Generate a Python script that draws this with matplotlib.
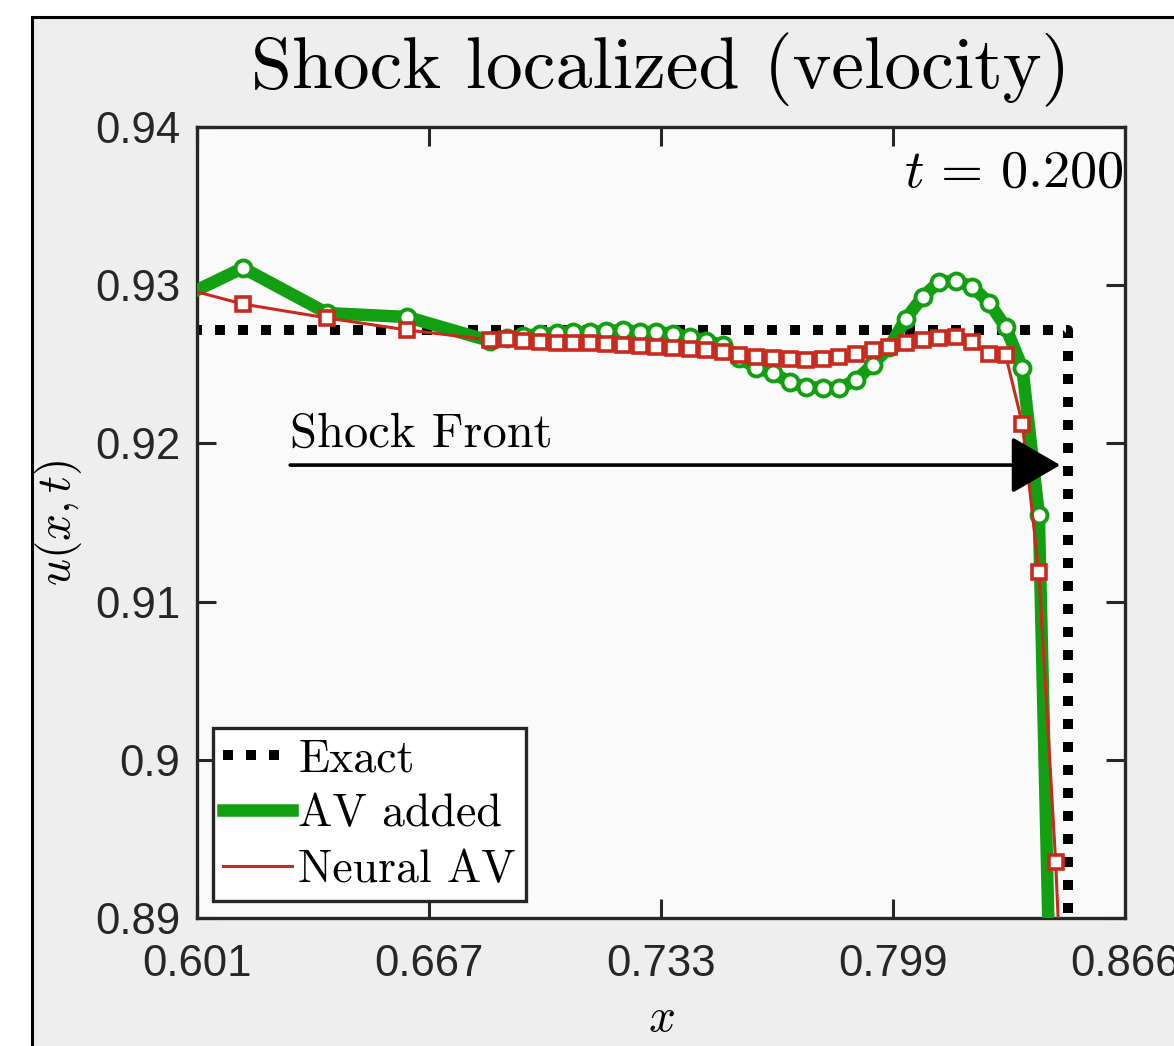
import matplotlib
matplotlib.use('Agg')
import matplotlib.pyplot as plt
from matplotlib.patches import Rectangle

plt.rcParams['mathtext.fontset'] = 'cm'
plt.rcParams['axes.unicode_minus'] = False

# grid nodes (first one lies left of the plotted window)
x_nodes = [0.5904, 0.6141, 0.6381, 0.6610,
           0.6847, 0.6894, 0.6942, 0.6989, 0.7037, 0.7084, 0.7132, 0.7179,
           0.7227, 0.7274, 0.7322, 0.7369, 0.7417, 0.7464, 0.7512, 0.7559,
           0.7607, 0.7654, 0.7702, 0.7749, 0.7797, 0.7844, 0.7892, 0.7939,
           0.7987, 0.8034, 0.8082, 0.8129, 0.8177, 0.8224, 0.8272, 0.8319,
           0.8367, 0.8414, 0.8462, 0.8509]

u_av = [0.92856, 0.93109, 0.92824, 0.92799,
        0.92647, 0.92666, 0.92679, 0.92692, 0.92698, 0.92704, 0.92704, 0.92710,
        0.92717, 0.92704, 0.92704, 0.92692, 0.92673, 0.92647, 0.92622, 0.92540,
        0.92477, 0.92445, 0.92388, 0.92357, 0.92350, 0.92350, 0.92401, 0.92496,
        0.92609, 0.92787, 0.92926, 0.93021, 0.93028, 0.92990, 0.92889, 0.92736,
        0.92477, 0.91547, 0.87000, 0.85000]

u_nav = [0.93020, 0.92881, 0.92793, 0.92717,
         0.92654, 0.92660, 0.92647, 0.92641, 0.92635, 0.92635, 0.92635, 0.92628,
         0.92622, 0.92616, 0.92609, 0.92603, 0.92597, 0.92590, 0.92578, 0.92559,
         0.92546, 0.92540, 0.92534, 0.92527, 0.92534, 0.92546, 0.92565, 0.92590,
         0.92609, 0.92635, 0.92654, 0.92666, 0.92673, 0.92642, 0.92565, 0.92559,
         0.92123, 0.91187, 0.89354, 0.87000]

x_exact = [0.58, 0.8497, 0.8497]
u_exact = [0.92717, 0.92717, 0.85]

xticks = [0.601, 0.6673, 0.7335, 0.7998, 0.866]
xticklabels = ['0.601', '0.667', '0.733', '0.799', '0.866']
yticks = [0.89, 0.90, 0.91, 0.92, 0.93, 0.94]
yticklabels = ['0.89', '0.9', '0.91', '0.92', '0.93', '0.94']

green = '#12a012'
red = '#c92a1e'
dark = '#262626'

fig = plt.figure(figsize=(11.74, 10.46), dpi=100, facecolor='white')
# gray panel with the black border of the screenshot
fig.patches.append(Rectangle((32 / 1174, -0.01), 1.2, 1 - 17 / 1046 + 0.01,
                             transform=fig.transFigure, facecolor='#eeeeee',
                             edgecolor='black', linewidth=2.2, zorder=-10))

ax = fig.add_axes([197 / 1174, 1 - 918 / 1046, 928 / 1174, 791 / 1046])
ax.set_facecolor('#fafafa')

ax.plot(x_exact, u_exact, color='black', linewidth=7.2,
        linestyle=(0, (1.0, 1.3)), dash_capstyle='butt', label='Exact', zorder=2)
ax.plot(x_nodes, u_av, color=green, linewidth=9, label='AV added', zorder=3,
        solid_joinstyle='round')
ax.plot(x_nodes, u_av, linestyle='none', marker='o', markersize=11.5,
        markerfacecolor='white', markeredgecolor=green, markeredgewidth=2.8,
        zorder=4)
ax.plot(x_nodes, u_nav, color=red, linewidth=2.2, label='Neural AV', zorder=5)
ax.plot(x_nodes, u_nav, linestyle='none', marker='s', markersize=10,
        markerfacecolor='white', markeredgecolor=red, markeredgewidth=2.6,
        zorder=6)

ax.annotate('', xy=(0.8475, 0.91863), xytext=(0.6276, 0.91863),
            arrowprops=dict(arrowstyle='-|>,head_length=3.1,head_width=1.8',
                            color='black', linewidth=2.6, shrinkA=0, shrinkB=0),
            zorder=8)
ax.text(0.6276, 0.9198, 'Shock Front', fontfamily='cmr10', fontsize=35,
        ha='left', va='baseline', zorder=8)
ax.text(0.8655, 0.9362, r'$t\, =\, 0.200$', fontsize=39, ha='right',
        va='baseline', zorder=8)

ax.set_xlim(0.601, 0.866)
ax.set_ylim(0.89, 0.94)
ax.set_xticks(xticks)
ax.set_xticklabels(xticklabels)
ax.set_yticks(yticks)
ax.set_yticklabels(yticklabels)
for lab in ax.get_xticklabels() + ax.get_yticklabels():
    lab.set_fontfamily('Liberation Sans')
ax.tick_params(direction='in', length=14, width=2.2, colors=dark,
               labelsize=31.5, top=True, right=True)
ax.tick_params(axis='y', pad=12)
ax.tick_params(axis='x', pad=19)
for s in ax.spines.values():
    s.set_linewidth(2.4)
    s.set_color(dark)

ax.set_xlabel(r'$x$', fontsize=34, labelpad=8)
ax.set_ylabel(r'$u(x,t)$', fontsize=34, labelpad=8)
ax.set_title('Shock localized (velocity)', fontfamily='cmr10', fontsize=53,
             pad=28)

leg = ax.legend(loc='lower left', bbox_to_anchor=(0.017, 0.0215),
                borderaxespad=0, prop={'family': 'cmr10', 'size': 33},
                handlelength=1.5, handletextpad=0.15, labelspacing=0.3,
                borderpad=0.22, fancybox=False, framealpha=1,
                facecolor='white', edgecolor=dark)
leg.get_frame().set_linewidth(2.4)

fig.savefig('out.png', dpi=100, facecolor=fig.get_facecolor())
